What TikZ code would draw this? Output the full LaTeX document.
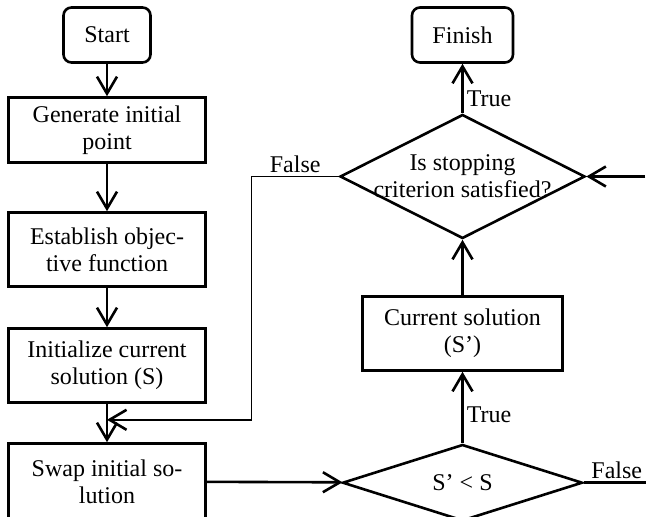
\documentclass[tikz,border=0pt]{standalone}
\usepackage{fontspec}
\setmainfont{Liberation Serif}
\usetikzlibrary{shapes,arrows.meta,positioning}
\tikzset{
  term/.style={rectangle, rounded corners=4pt, draw=black, line width=1.3pt, minimum width=43.5pt, minimum height=27.5pt, inner sep=2pt},
  box/.style={rectangle, draw=black, line width=1.3pt, minimum width=98.5pt, minimum height=37pt, align=center, inner sep=2pt},
  decision/.style={diamond, draw=black, line width=1.3pt, inner sep=0pt},
  connect/.style={-{Straight Barb[length=8.5pt,width=10pt,line width=1.3pt]}, line width=1.3pt},
  thinline/.style={line width=0.7pt},
  lbl/.style={inner sep=1.5pt}
}

\begin{document}
\begin{tikzpicture}[font=\fontsize{12}{13.5}\selectfont]
  \useasboundingbox (0,0) rectangle (323pt,-258.5pt);
  % left column
  \node[term] (start) at (53.5pt,-17.5pt) {Start};
  \node[box, minimum height=32.5pt] (gen) [below=16.2pt of start] {Generate initial\\point};
  \node[box] (est) [below=23.7pt of gen] {Establish objec-\\tive function};
  \node[box] (init) [below=19.7pt of est] {Initialize current\\solution (S)};
  \node[box, minimum height=38pt] (swap) [below=19.2pt of init] {Swap initial so-\\lution};
  % right column
  \node[term, minimum width=50.5pt] (finish) [right=129.45pt of start] {Finish};
  \node[decision, minimum width=122.5pt, minimum height=62pt,
        label={[align=center]center:Is stopping\\criterion satisfied?}] (stop) [below=24.7pt of finish] {};
  \node[box, minimum width=100pt] (cur) [below=27.7pt of stop] {Current solution\\(S')};
  \node[decision, minimum width=120pt, minimum height=36pt] (cmp) [below=35.7pt of cur] {S' < S};
  \coordinate (join) at ([yshift=-8pt]init.south);
  \coordinate (inR) at ([xshift=29.5pt]stop.east);
  \coordinate (outR) at ([xshift=33pt]cmp.east);

  \draw[connect] (start) -- (gen);
  \draw[connect] (gen) -- (est);
  \draw[connect] (est) -- (init);
  \draw[connect] (init) -- (swap);
  \draw[connect] (swap) -- (cmp);
  \draw[connect] (cmp) -- node[lbl, right, pos=0.4] {True} (cur);
  \draw[connect] (cur) -- (stop);
  \draw[connect] (stop) -- node[lbl, right, pos=0.3] {True} (finish);
  \draw[connect] (inR) -- (stop.east);
  \draw[line width=1.3pt] (cmp.east) -- node[lbl, above] {False} (outR);
  \draw[thinline, -{Straight Barb[length=8.5pt,width=10pt,line width=1.3pt]}]
    (stop.west) -- node[lbl, above] {False} ++(-43.5pt,0) |- (join);

\end{tikzpicture}
\end{document}
